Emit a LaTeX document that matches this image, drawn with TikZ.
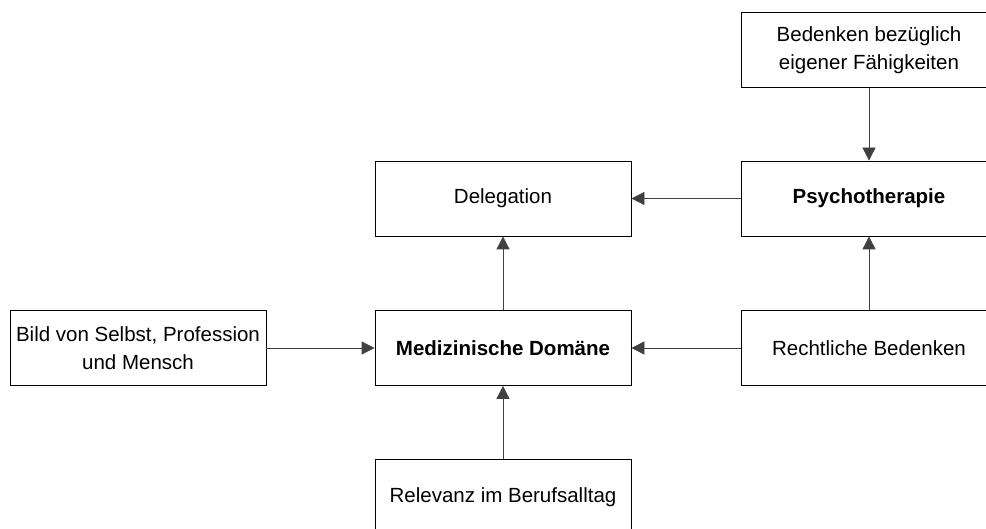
\documentclass[tikz,border=0pt]{standalone}
\usepackage{fontspec}
\setmainfont{Liberation Sans}
\usetikzlibrary{arrows.meta}
\begin{document}
\begin{tikzpicture}[x=1pt,y=-1pt,
  box/.style={draw=black, line width=0.8pt, rectangle, minimum width=256pt,
    minimum height=75pt, align=center, inner sep=2pt,
    font=\fontsize{20.5}{27.5}\selectfont},
  conn/.style={draw=black!75, line width=0.8pt,
    -{Triangle[length=13pt,width=13pt]}}]
\useasboundingbox (0,0) rectangle (986,529);
\clip (0,0) rectangle (986,529);
\node[box] (bed) at (869,50) {Bedenken bezüglich\\eigener Fähigkeiten};
\node[box] (del) at (503,198.5) {Delegation};
\node[box] (psy) at (869,198.5) {\bfseries Psychotherapie};
\node[box] (bild) at (138,348) {Bild von Selbst, Profession\\und Mensch};
\node[box] (med) at (503,348) {\bfseries Medizinische Domäne};
\node[box] (recht) at (869,348) {Rechtliche Bedenken};
\node[box] (rel) at (503,497) {Relevanz im Berufsalltag};
\draw[conn] (bed.south) -- (psy.north);
\draw[conn] (psy.west) -- (del.east);
\draw[conn] (med.north) -- (del.south);
\draw[conn] (recht.north) -- (psy.south);
\draw[conn] (recht.west) -- (med.east);
\draw[conn] (bild.east) -- (med.west);
\draw[conn] (rel.north) -- (med.south);
\end{tikzpicture}
\end{document}
